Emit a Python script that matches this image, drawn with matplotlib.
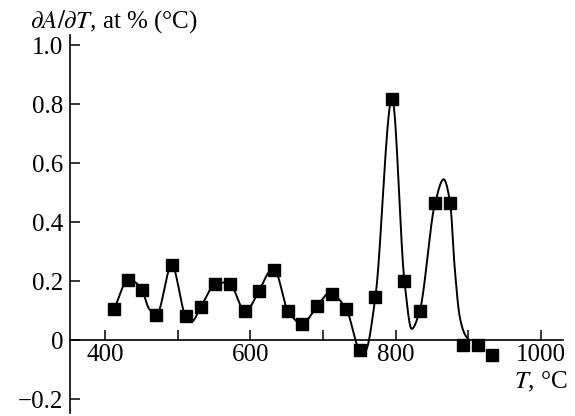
import numpy as np
import matplotlib
matplotlib.use("Agg")
import matplotlib.pyplot as plt

plt.rcParams['font.family'] = ['Liberation Serif', 'DejaVu Serif']
plt.rcParams['mathtext.fontset'] = 'stix'

# measured points (markers)
T_pts = [413, 432, 451, 471, 492, 511, 532, 552, 572, 593, 612, 633, 652, 671,
         692, 712, 732, 751, 772, 795, 812, 833, 854, 875, 893, 913, 932]
v_pts = [0.107, 0.204, 0.170, 0.086, 0.254, 0.082, 0.113, 0.190, 0.190, 0.097,
         0.167, 0.238, 0.098, 0.056, 0.114, 0.157, 0.105, -0.033, 0.145, 0.818,
         0.200, 0.099, 0.463, 0.463, -0.018, -0.018, -0.049]

# smooth curve knots
T_curve = [413, 432, 441, 451, 461, 471, 492, 511, 519, 532, 552, 562, 572, 593,
           612, 628, 633, 652, 671, 692, 709, 732, 751, 758, 772, 795, 812, 822,
           833, 854, 866, 875, 881, 888, 895, 901]
v_curve = [0.107, 0.204, 0.197, 0.170, 0.105, 0.086, 0.254, 0.082, 0.062, 0.113,
           0.190, 0.195, 0.190, 0.097, 0.167, 0.235, 0.238, 0.098, 0.056, 0.114,
           0.160, 0.105, -0.033, -0.036, 0.145, 0.820, 0.200, 0.038, 0.099, 0.463,
           0.545, 0.463, 0.250, 0.080, 0.020, 0.0]

x_ticks = [400, 500, 600, 700, 800, 900, 1000]
x_labels = ['400', '', '600', '', '800', '', '1000']
y_ticks = [-0.2, 0.0, 0.2, 0.4, 0.6, 0.8, 1.0]
y_labels = ['\u22120.2', '0', '0.2', '0.4', '0.6', '0.8', '1.0']


def pchip(x, y, xs):
    x = np.asarray(x, float); y = np.asarray(y, float)
    h = np.diff(x); d = np.diff(y) / h
    n = len(x)
    m = np.zeros(n)
    for k in range(1, n - 1):
        if d[k - 1] * d[k] > 0:
            w1 = 2 * h[k] + h[k - 1]; w2 = h[k] + 2 * h[k - 1]
            m[k] = (w1 + w2) / (w1 / d[k - 1] + w2 / d[k])
    m[0] = d[0]; m[-1] = d[-1]
    idx = np.clip(np.searchsorted(x, xs) - 1, 0, n - 2)
    t = (xs - x[idx]) / h[idx]
    h00 = 2 * t**3 - 3 * t**2 + 1; h10 = t**3 - 2 * t**2 + t
    h01 = -2 * t**3 + 3 * t**2; h11 = t**3 - t**2
    return h00 * y[idx] + h10 * h[idx] * m[idx] + h01 * y[idx + 1] + h11 * h[idx] * m[idx + 1]


fig = plt.figure(figsize=(5.75, 4.16), dpi=100)
ax = fig.add_axes([0.1217, 0.0072, 0.979 - 0.1217, 0.9159 - 0.0072])
ax.set_xlim(352, 1030)
ax.set_ylim(-0.247, 1.034)

xs = np.linspace(T_curve[0], T_curve[-1], 1500)
ax.plot(xs, pchip(T_curve, v_curve, xs), color='black', lw=1.4, zorder=2)
ax.plot(T_pts, v_pts, 's', color='black', ms=9, zorder=3, clip_on=False)

for s in ['top', 'right']:
    ax.spines[s].set_visible(False)
ax.spines['bottom'].set_position(('data', 0))
ax.spines['left'].set_linewidth(1.2)
ax.spines['bottom'].set_linewidth(1.2)

ax.set_xticks(x_ticks)
ax.set_xticklabels(x_labels)
ax.set_yticks(y_ticks)
ax.set_yticklabels(y_labels)
ax.tick_params(axis='x', direction='in', length=7, width=1.1, pad=3, labelsize=18)
ax.tick_params(axis='y', direction='in', length=7, width=1.1, pad=5, labelsize=18)

fig.text(30 / 575, 1 - 22 / 416, r'$\partial A/\partial T$, at % (°C)', fontsize=18,
         ha='left', va='center')
fig.text(568 / 575, 1 - 382 / 416, r'$T$, °C', fontsize=18, ha='right', va='center')

fig.savefig('out.png', dpi=100)
